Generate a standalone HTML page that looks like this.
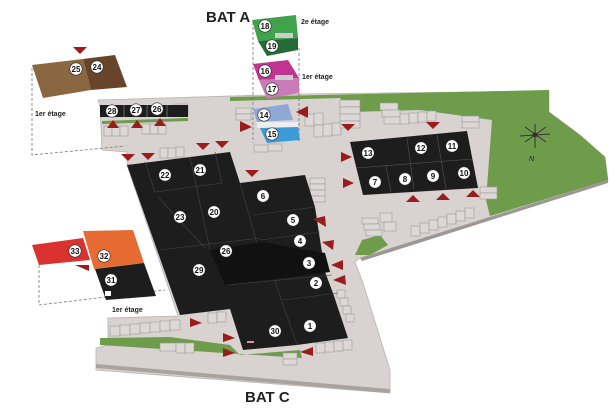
<!DOCTYPE html>
<html><head><meta charset="utf-8"><style>
html,body{margin:0;padding:0;background:#fff;width:610px;height:409px;overflow:hidden}
svg{display:block}
.lb{font-family:"Liberation Sans",sans-serif;font-size:8px;font-weight:bold;fill:#111;text-anchor:middle}
.t{font-family:"Liberation Sans",sans-serif;font-weight:bold;fill:#222}
.st{fill:#ddd8d6;stroke:#999;stroke-width:0.6}
.ar{fill:#9b1c1c}
</style></head><body>
<svg width="610" height="409" viewBox="0 0 610 409" xmlns="http://www.w3.org/2000/svg">
<defs>
<g id="c"><circle r="6.2" fill="#fff" stroke="#222" stroke-width="0.6"/></g>
</defs>
<!-- ground -->
<polygon points="98,100 300,94 549,91 549,112 580,135 605,157 608,180 360,258 355,262 363,283 390,370 390,393 96,370 96,348 108,345 108,318 178,316 127,165 127,152 102,150 100,106" fill="#d8d3d1" stroke="#b9b3b0" stroke-width="0.8"/>
<polygon points="96,368 390,393 390,389 96,364" fill="#a9a3a0"/>
<polygon points="360,258 608,180 608,183 362,261" fill="#9c9694"/>
<!-- green -->
<polygon points="230,97 549,90 549,112 580,135 605,157 608,180 490,216 486,200 492,120 420,110 350,112 340,98 230,101" fill="#6f9c4b"/>
<polygon points="355,255 362,240 380,235 388,245 370,255" fill="#6f9c4b"/>
<polygon points="100,338 170,337 230,345 240,355 300,350 302,358 100,345" fill="#6f9c4b"/>
<polygon points="102,121 188,118 188,121 102,124" fill="#6f9c4b"/>
<!-- stalls -->
<g class="st">
<rect x="104" y="126" width="8" height="10"/><rect x="112" y="126" width="8" height="10"/><rect x="120" y="126" width="8" height="10"/><rect x="142" y="124" width="8" height="10"/><rect x="150" y="124" width="8" height="10"/><rect x="158" y="124" width="8" height="10"/>
<rect x="174" y="104" width="14" height="6"/><rect x="174" y="110" width="14" height="6"/>
<rect x="160" y="148" width="8" height="10"/><rect x="168" y="148" width="8" height="10"/><rect x="176" y="147" width="8" height="10"/>
<rect x="236" y="108" width="15" height="6"/><rect x="236" y="114" width="15" height="6"/><rect x="254" y="145" width="14" height="7"/><rect x="268" y="144" width="14" height="7"/>
<rect x="305" y="114" width="9" height="12"/><rect x="314" y="113" width="9" height="12"/><rect x="314" y="125" width="9" height="12"/><rect x="323" y="124" width="9" height="12"/><rect x="332" y="123" width="9" height="12"/>
<rect x="340" y="100" width="20" height="7"/><rect x="340" y="107" width="20" height="7"/><rect x="340" y="114" width="20" height="7"/><rect x="340" y="121" width="20" height="7"/>
<rect x="380" y="103" width="18" height="7"/><rect x="382" y="110" width="18" height="7"/><rect x="384" y="117" width="18" height="7"/><rect x="400" y="114" width="9" height="10"/><rect x="409" y="113" width="9" height="10"/><rect x="418" y="112" width="9" height="10"/><rect x="427" y="111" width="9" height="10"/><rect x="462" y="116" width="17" height="6"/><rect x="462" y="122" width="17" height="6"/>
<rect x="480" y="187" width="17" height="6"/><rect x="480" y="193" width="17" height="6"/>
<rect x="411" y="226" width="9" height="10"/><rect x="420" y="223" width="9" height="10"/><rect x="429" y="220" width="9" height="10"/><rect x="438" y="217" width="9" height="10"/><rect x="447" y="214" width="9" height="10"/><rect x="456" y="211" width="9" height="10"/><rect x="465" y="208" width="9" height="10"/>
<rect x="310" y="178" width="15" height="6"/><rect x="310" y="184" width="15" height="6"/><rect x="310" y="190" width="15" height="6"/><rect x="310" y="196" width="15" height="6"/>
<rect x="362" y="218" width="16" height="6"/><rect x="364" y="224" width="16" height="6"/><rect x="366" y="230" width="16" height="6"/><rect x="380" y="213" width="12" height="9"/><rect x="384" y="222" width="12" height="9"/>
<rect x="337" y="290" width="8" height="8"/><rect x="340" y="298" width="8" height="8"/><rect x="343" y="306" width="8" height="8"/><rect x="346" y="314" width="8" height="8"/>
<rect x="316" y="343" width="9" height="10"/><rect x="325" y="342" width="9" height="10"/><rect x="334" y="341" width="9" height="10"/><rect x="343" y="340" width="9" height="10"/>
<rect x="110" y="326" width="10" height="10"/><rect x="120" y="325" width="10" height="10"/><rect x="130" y="324" width="10" height="10"/><rect x="140" y="323" width="10" height="10"/><rect x="150" y="322" width="10" height="10"/><rect x="160" y="321" width="10" height="10"/><rect x="170" y="320" width="10" height="10"/>
<rect x="208" y="313" width="9" height="10"/><rect x="217" y="312" width="9" height="10"/>
<rect x="160" y="343" width="16" height="8"/><rect x="176" y="343" width="9" height="10"/><rect x="185" y="343" width="9" height="10"/>
<rect x="283" y="353" width="14" height="6"/><rect x="283" y="359" width="14" height="6"/>
</g>
<!-- dashed lines -->
<g fill="none" stroke="#777" stroke-width="0.8" stroke-dasharray="3,2">
<polyline points="32,68 32,155 125,146"/>
<polyline points="39,265 39,305 165,290"/>
<line x1="253" y1="22" x2="253" y2="143"/><line x1="299" y1="48" x2="299" y2="143"/>
</g>
<!-- main building -->
<polygon points="127,165 230,152 240,183 305,175 315,207 325,272 333,293 348,338 297,345 243,350 230,309 180,315" fill="#1d1d1d"/>
<g stroke="#444" stroke-width="0.6" fill="none">
<polyline points="145,162 155,192 222,183 215,152"/>
<line x1="190" y1="157" x2="210" y2="250"/>
<line x1="158" y1="197" x2="205" y2="248"/>
<line x1="160" y1="250" x2="260" y2="238"/>
<line x1="240" y1="183" x2="263" y2="265"/>
<line x1="253" y1="215" x2="315" y2="207"/>
<line x1="260" y1="240" x2="320" y2="232"/>
<line x1="215" y1="265" x2="325" y2="253"/>
<line x1="227" y1="285" x2="332" y2="275"/>
<line x1="275" y1="281" x2="297" y2="345"/>
<line x1="283" y1="300" x2="338" y2="293"/>
</g>
<polygon points="210,250 262,242 325,253 330,272 225,285" fill="#111"/>
<!-- strip 26-28 -->
<rect x="100" y="105" width="88" height="12" fill="#1d1d1d"/>
<line x1="124" y1="105" x2="124" y2="117" stroke="#666"/><line x1="147" y1="105" x2="147" y2="117" stroke="#666"/><line x1="167" y1="105" x2="167" y2="117" stroke="#666"/>
<!-- right building -->
<polygon points="350,142 467,131 478,188 363,195" fill="#1d1d1d"/>
<g stroke="#555" stroke-width="0.6"><line x1="356" y1="168" x2="472" y2="159"/><line x1="407" y1="138" x2="414" y2="190"/><line x1="437" y1="135" x2="446" y2="189"/><line x1="386" y1="166" x2="391" y2="192"/></g>
<!-- brown -->
<polygon points="32,65 83,59 91,90 43,98" fill="#8a6641"/>
<polygon points="83,59 115,55 127,87 91,90" fill="#68452a"/>
<!-- BAT A floors -->
<polygon points="252,20 296,15 298,38 258,41" fill="#40a24a"/>
<polygon points="258,41 298,38 298,50 267,56" fill="#246b36"/>
<rect x="275" y="33" width="18" height="5" fill="#ccc"/>
<polygon points="253,64 288,60 299,78 259,80" fill="#c0358f"/>
<polygon points="259,80 299,78 299,93 267,99" fill="#c87bb6"/>
<rect x="275" y="75" width="18" height="5" fill="#ccc"/>
<polygon points="253,109 288,104 293,120 257,122" fill="#90a8d6"/>
<rect x="257" y="122" width="41" height="6" fill="#eee"/>
<polygon points="260,128 298,127 300,140 267,143" fill="#3c9bd6"/>
<!-- red/orange/31 -->
<polygon points="32,245 83,238 90,260 39,265" fill="#d93230"/>
<polygon points="83,231 133,230 144,263 94,269" fill="#e56b32"/>
<polygon points="95,269 144,263 156,296 106,300" fill="#1d1d1d"/>
<rect x="105" y="291" width="6" height="5" fill="#fff"/>
<rect x="247" y="341" width="7" height="2" fill="#e58aa8"/>
<!-- arrows -->
<g class="ar">
<polygon points="73,47 87,47 80,54"/>
<polygon points="107,128 119,128 113,120"/><polygon points="131,128 143,128 137,120"/><polygon points="154,126 166,126 160,118"/>
<polygon points="296,112 308,106 308,118"/>
<polygon points="240,121 240,132 252,127"/>
<polygon points="121,154 135,154 128,161"/><polygon points="141,153 155,153 148,160"/>
<polygon points="196,143 210,143 203,150"/><polygon points="215,141 229,141 222,148"/>
<polygon points="245,170 259,170 252,177"/>
<polygon points="341,152 341,162 352,157"/><polygon points="343,178 343,188 354,183"/>
<polygon points="341,124 355,124 348,131"/><polygon points="426,122 440,122 433,129"/>
<polygon points="406,202 420,202 413,195"/><polygon points="436,200 450,200 443,193"/><polygon points="466,197 480,197 473,190"/>
<polygon points="313,219 325,216 326,227"/><polygon points="322,242 334,240 333,250"/>
<polygon points="331,265 343,260 343,270"/><polygon points="333,280 345,275 346,285"/>
<polygon points="190,318 190,327 202,323"/>
<polygon points="223,333 223,342 235,338"/><polygon points="223,348 223,357 235,353"/>
<polygon points="300,352 313,347 313,356"/>
<polygon points="75,265 89,265 89,271"/>
</g>
<!-- compass -->
<g stroke="#333" stroke-width="1" fill="#333">
<line x1="520" y1="136" x2="550" y2="134"/><line x1="535" y1="124" x2="535" y2="148"/><line x1="525" y1="127" x2="546" y2="142"/><line x1="546" y1="127" x2="525" y2="142"/>
<circle cx="535" cy="135" r="2"/>
</g>
<text x="529" y="161" class="t" style="font-size:7px;font-weight:normal;font-style:italic">N</text>
<!-- labels -->
<g>
<use href="#c" x="165" y="175"/><use href="#c" x="200" y="170"/><use href="#c" x="263" y="196"/><use href="#c" x="180" y="217"/><use href="#c" x="214" y="212"/><use href="#c" x="293" y="220"/><use href="#c" x="300" y="241"/><use href="#c" x="226" y="251"/><use href="#c" x="309" y="263"/><use href="#c" x="199" y="270"/><use href="#c" x="316" y="283"/><use href="#c" x="275" y="331"/><use href="#c" x="310" y="326"/>
<use href="#c" x="368" y="153"/><use href="#c" x="421" y="148"/><use href="#c" x="452" y="146"/><use href="#c" x="375" y="182"/><use href="#c" x="405" y="179"/><use href="#c" x="433" y="176"/><use href="#c" x="464" y="173"/>
<use href="#c" x="112" y="111"/><use href="#c" x="136" y="110"/><use href="#c" x="157" y="109"/>
<use href="#c" x="76" y="69"/><use href="#c" x="97" y="67"/>
<use href="#c" x="265" y="26"/><use href="#c" x="272" y="46"/><use href="#c" x="265" y="71"/><use href="#c" x="272" y="89"/><use href="#c" x="264" y="115"/><use href="#c" x="272" y="134"/>
<use href="#c" x="75" y="251"/><use href="#c" x="104" y="256"/><use href="#c" x="111" y="280"/>
</g>
<g class="lb">
<text x="165" y="178">22</text><text x="200" y="173">21</text><text x="263" y="199">6</text><text x="180" y="220">23</text><text x="214" y="215">20</text><text x="293" y="223">5</text><text x="300" y="244">4</text><text x="226" y="254">26</text><text x="309" y="266">3</text><text x="199" y="273">29</text><text x="316" y="286">2</text><text x="275" y="334">30</text><text x="310" y="329">1</text>
<text x="368" y="156">13</text><text x="421" y="151">12</text><text x="452" y="149">11</text><text x="375" y="185">7</text><text x="405" y="182">8</text><text x="433" y="179">9</text><text x="464" y="176">10</text>
<text x="112" y="114">28</text><text x="136" y="113">27</text><text x="157" y="112">26</text>
<text x="76" y="72">25</text><text x="97" y="70">24</text>
<text x="265" y="29">18</text><text x="272" y="49">19</text><text x="265" y="74">16</text><text x="272" y="92">17</text><text x="264" y="118">14</text><text x="272" y="137">15</text>
<text x="75" y="254">33</text><text x="104" y="259">32</text><text x="111" y="283">31</text>
</g>
<text x="206" y="22" class="t" style="font-size:15px">BAT A</text>
<text x="245" y="402" class="t" style="font-size:15px">BAT C</text>
<text x="301" y="24" class="t" style="font-size:7px">2e étage</text>
<text x="302" y="79" class="t" style="font-size:7px">1er étage</text>
<text x="35" y="116" class="t" style="font-size:7px">1er étage</text>
<text x="112" y="312" class="t" style="font-size:7px">1er étage</text>
</svg>
</body></html>
